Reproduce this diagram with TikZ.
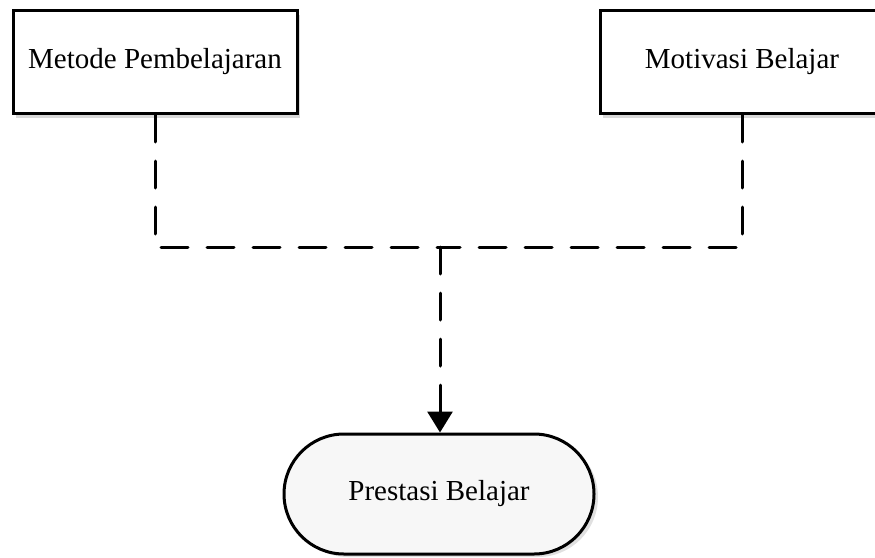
\documentclass[tikz,border=0pt]{standalone}
\usepackage{fontspec}
\setmainfont{Liberation Serif}
\usetikzlibrary{arrows.meta,shadows,shapes.misc}
\tikzset{
  boxnode/.style={draw=black, line width=3pt, fill=white, minimum width=284pt, minimum height=103pt, inner sep=0pt,
    font=\fontsize{29}{34}\selectfont,
    drop shadow={shadow xshift=3pt, shadow yshift=-4pt, fill=black!15, opacity=1}},
  termnode/.style={draw=black, line width=3pt, fill=black!3, rounded rectangle, minimum width=310pt, minimum height=120pt, inner sep=0pt,
    font=\fontsize{29}{34}\selectfont,
    drop shadow={shadow xshift=4pt, shadow yshift=-3pt, fill=black!12, opacity=1}},
  dashline/.style={line width=3pt, dash pattern=on 27pt off 19pt, line cap=round},
}
\begin{document}
\begin{tikzpicture}[x=1pt,y=-1pt]
\useasboundingbox (0,0) rectangle (875,557);
\node[boxnode] (mp) at (155,62) {Metode Pembelajaran};
\node[boxnode] (mb) at (742,62) {Motivasi Belajar};
\node[termnode] (pb) at (439,494) {Prestasi Belajar};
\coordinate (jl) at (155,247);
\coordinate (jr) at (742,247);
\coordinate (jm) at (440,247);
\draw[dashline] (mp.south) -- (jl) -- (jm);
\draw[dashline] (mb.south) -- (jr) -- (jm);
\draw[dashline, -{Triangle[width=25pt,length=21pt]}] (jm) -- (jm |- pb.north);
\end{tikzpicture}
\end{document}
